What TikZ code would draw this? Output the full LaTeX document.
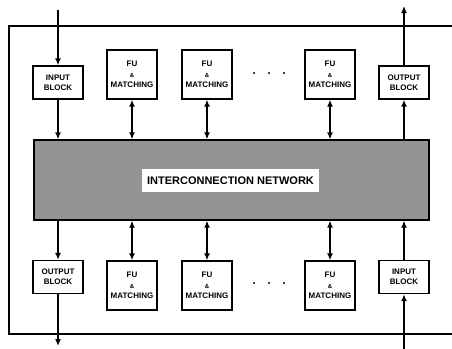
\documentclass[tikz,border=0pt]{standalone}
\usepackage{fontspec}
\setmainfont{Liberation Sans}
\usetikzlibrary{arrows.meta,positioning}
\tikzset{
  iobox/.style={draw, line width=1.3pt, fill=white, minimum width=50pt, minimum height=33pt, align=center, inner sep=1pt, font=\fontsize{8}{10}\selectfont\bfseries},
  fubox/.style={iobox, minimum height=49pt, font=\fontsize{8}{10.5}\selectfont\bfseries},
  netbox/.style={draw, line width=1.3pt, fill=black!42, minimum width=395pt, minimum height=80pt},
  lblbox/.style={fill=white, minimum width=177pt, minimum height=23pt, inner sep=0pt, font=\fontsize{11}{13}\selectfont\bfseries},
  arr/.style={-{Latex[length=7pt,width=6pt]}, line width=1.5pt},
  darr/.style={{Latex[length=7pt,width=6pt]}-{Latex[length=7pt,width=6pt]}, line width=1.5pt}
}
\newcommand{\ampsm}{{\fontsize{6}{6}\selectfont\&}}
\begin{document}
\begin{tikzpicture}[x=1pt,y=-1pt]
  \useasboundingbox (0,0) rectangle (452,348);
  \draw[line width=1.2pt] (452,26) -- (9,26) -- (9,334) -- (452,334);
  \node[netbox] (net) at (231.5,180) {};
  \node[lblbox] (lbl) at (230.5,180.5) {INTERCONNECTION NETWORK};
  \node[iobox] (inT) at (58,82.5) {INPUT\\BLOCK};
  \node[fubox] (fuTa) at (132,74.5) {FU\\\ampsm\\MATCHING};
  \node[fubox] (fuTb) at (207,74.5) {FU\\\ampsm\\MATCHING};
  \node[fubox] (fuTc) at (330,74.5) {FU\\\ampsm\\MATCHING};
  \node[iobox] (outT) at (404,82.5) {OUTPUT\\BLOCK};
  \node[iobox] (outB) at (58,277) {OUTPUT\\BLOCK};
  \node[fubox] (fuBa) at (132,285.5) {FU\\\ampsm\\MATCHING};
  \node[fubox] (fuBb) at (207,285.5) {FU\\\ampsm\\MATCHING};
  \node[fubox] (fuBc) at (330,285.5) {FU\\\ampsm\\MATCHING};
  \node[iobox] (inB) at (404,277) {INPUT\\BLOCK};
  \foreach \x in {254,269,284} {
    \fill (\x,73) circle (1.2pt);
    \fill (\x,283) circle (1.2pt);
  }
  \coordinate (srcT) at (58,10);
  \coordinate (snkT) at (404,6);
  \coordinate (snkB) at (58,346);
  \coordinate (srcB) at (404,350);
  \draw[arr] (srcT) -- (inT);
  \draw[arr] (inT) -- (inT |- net.north);
  \foreach \n in {fuTa,fuTb,fuTc} \draw[darr] (\n) -- (\n |- net.north);
  \draw[arr] (net.north -| outT) -- (outT);
  \draw[arr] (outT) -- (snkT);
  \draw[arr] (net.south -| outB) -- (outB);
  \draw[arr] (outB) -- (snkB);
  \foreach \n in {fuBa,fuBb,fuBc} \draw[darr] (\n) -- (\n |- net.south);
  \draw[arr] (srcB) -- (inB);
  \draw[arr] (inB) -- (net.south -| inB);
\end{tikzpicture}
\end{document}
